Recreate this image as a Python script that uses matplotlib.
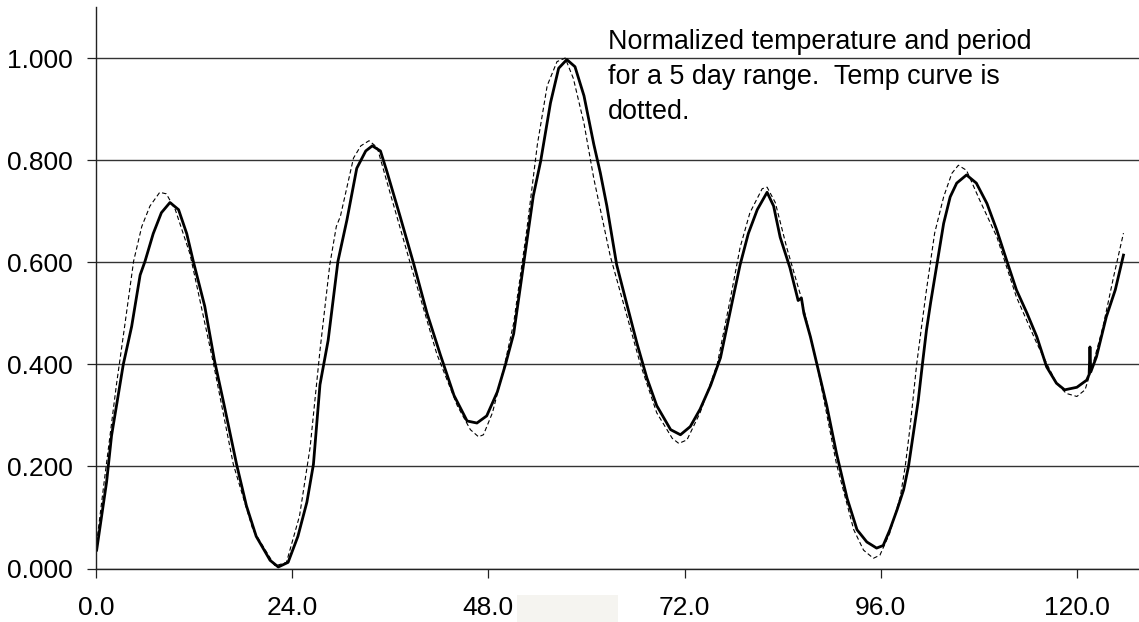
"""Normalized temperature vs period over a 5 day range (temp curve dashed)."""

import matplotlib

matplotlib.use("Agg")
import matplotlib.pyplot as plt
from matplotlib.patches import Rectangle
from matplotlib.ticker import FormatStrFormatter

# period (solid, thick) -- hours, normalized value
period_hours = [
    0.08, 1.3, 1.9, 3.34, 4.36, 5.4, 6.0, 7.0, 8.0, 9.05, 10.1, 11.1, 11.9,
    13.3, 14.5, 15.6, 17.2, 18.4, 19.6, 21.3, 22.3, 23.5, 24.7, 25.8, 26.6,
    27.4, 28.4, 29.6, 30.7, 31.9, 33.0, 33.8, 34.8, 35.6, 37.2, 38.9, 40.5,
    42.1, 43.8, 45.4, 46.6, 47.8, 49.1, 50.1, 51.1, 52.3, 53.5, 54.4, 55.6,
    56.6, 57.6, 58.6, 59.7, 60.9, 61.7, 62.5, 63.7, 65.0, 66.2, 67.4, 68.6,
    70.3, 71.5, 72.7, 73.9, 75.2, 76.4, 77.2, 78.0, 78.8, 79.8, 80.9, 82.1,
    82.9, 83.7, 84.9, 85.9, 86.3, 86.6, 87.4, 88.2, 89.4, 90.6, 91.9, 93.1,
    94.3, 95.5, 96.3, 97.1, 98.0, 98.8, 99.4, 100.0, 100.6, 101.1, 101.6,
    102.1, 102.9, 103.7, 104.5, 105.3, 106.5, 107.7, 109.0, 110.2, 111.4,
    112.6, 113.9, 115.1, 116.3, 117.5, 118.5, 120.0, 121.2, 121.5, 121.6,
    121.7, 122.4, 123.6, 124.7, 125.7,
]
period_norm = [
    0.036, 0.17, 0.26, 0.40, 0.474, 0.575, 0.602, 0.656, 0.697, 0.717, 0.703,
    0.656, 0.602, 0.514, 0.407, 0.326, 0.204, 0.123, 0.063, 0.016, 0.003,
    0.012, 0.063, 0.13, 0.204, 0.36, 0.447, 0.602, 0.683, 0.784, 0.818, 0.828,
    0.818, 0.777, 0.69, 0.595, 0.50, 0.42, 0.339, 0.289, 0.285, 0.299, 0.346,
    0.40, 0.46, 0.595, 0.73, 0.798, 0.912, 0.98, 0.997, 0.983, 0.926, 0.831,
    0.775, 0.71, 0.595, 0.514, 0.44, 0.373, 0.319, 0.272, 0.262, 0.278, 0.312,
    0.359, 0.413, 0.474, 0.535, 0.595, 0.656, 0.703, 0.737, 0.71, 0.649,
    0.589, 0.525, 0.53, 0.50, 0.454, 0.40, 0.319, 0.225, 0.137, 0.076, 0.052,
    0.04, 0.045, 0.075, 0.115, 0.154, 0.2, 0.265, 0.33, 0.4, 0.467, 0.52,
    0.598, 0.676, 0.728, 0.755, 0.771, 0.755, 0.715, 0.663, 0.604, 0.546,
    0.50, 0.454, 0.395, 0.363, 0.35, 0.355, 0.369, 0.38, 0.434, 0.385, 0.415,
    0.493, 0.546, 0.614,
]

# temperature (thin, dashed)
temp_hours = [
    0.08, 0.9, 2.5, 3.5, 4.6, 5.6, 6.6, 7.8, 8.6, 9.7, 11.5, 14.3, 16.8, 19.2,
    21.9, 23.3, 24.9, 26.2, 27.4, 28.6, 29.4, 29.9, 31.5, 32.4, 33.4, 34.4,
    35.6, 38.5, 41.7, 44.2, 45.8, 46.8, 47.4, 48.5, 49.9, 51.1, 52.7, 54.0,
    55.2, 56.4, 57.4, 58.4, 59.7, 60.9, 62.9, 66.6, 68.6, 70.5, 71.3, 72.3,
    73.9, 76.0, 77.6, 78.8, 80.0, 81.5, 82.1, 83.1, 84.5, 86.2, 88.2, 90.6,
    92.7, 93.9, 95.1, 95.9, 97.1, 98.4, 99.0, 99.6, 100.4, 101.0, 101.6,
    102.6, 103.7, 104.7, 105.5, 106.5, 108.1, 110.2, 112.6, 115.1, 117.5,
    118.7, 120.0, 121.0, 122.0, 123.2, 124.5, 125.7,
]
temp_norm = [
    0.05, 0.157, 0.36, 0.474, 0.602, 0.67, 0.71, 0.737, 0.734, 0.703, 0.616,
    0.407, 0.204, 0.076, 0.005, 0.012, 0.103, 0.238, 0.427, 0.595, 0.67, 0.69,
    0.804, 0.828, 0.838, 0.825, 0.757, 0.595, 0.42, 0.319, 0.272, 0.258,
    0.262, 0.305, 0.393, 0.481, 0.663, 0.831, 0.946, 0.993, 1.0, 0.96, 0.872,
    0.764, 0.613, 0.40, 0.305, 0.255, 0.245, 0.252, 0.305, 0.40, 0.528, 0.629,
    0.697, 0.744, 0.747, 0.717, 0.629, 0.535, 0.40, 0.204, 0.076, 0.036, 0.02,
    0.026, 0.069, 0.141, 0.2, 0.278, 0.40, 0.474, 0.546, 0.657, 0.728, 0.774,
    0.79, 0.78, 0.722, 0.65, 0.532, 0.441, 0.363, 0.343, 0.337, 0.35, 0.402,
    0.474, 0.572, 0.657,
]

x_ticks = [0, 24, 48, 72, 96, 120]
y_ticks = [0.0, 0.2, 0.4, 0.6, 0.8, 1.0]
note_lines = [
    "Normalized temperature and period",
    "for a 5 day range.  Temp curve is",
    "dotted.",
]

W, H = 1139, 622
plt.rcParams["font.family"] = ["Liberation Sans", "DejaVu Sans"]

fig = plt.figure(figsize=(W / 100, H / 100), dpi=100)
ax = fig.add_axes([96 / W, 1 - 568.5 / H, 1 - 96 / W, (568.5 - 7) / H])

ax.plot(temp_hours, temp_norm, color="black", lw=0.8, dashes=(4, 2.5))
ax.plot(period_hours, period_norm, color="black", lw=2.0)

ax.set_xlim(0, 127.6)
ax.set_ylim(0, 1.1)
ax.set_xticks(x_ticks)
ax.set_yticks(y_ticks)
ax.xaxis.set_major_formatter(FormatStrFormatter("%.1f"))
ax.yaxis.set_major_formatter(FormatStrFormatter("%.3f"))
ax.grid(axis="y", color="#333333", lw=1.0)
ax.set_axisbelow(True)
for side in ("top", "right"):
    ax.spines[side].set_visible(False)
for side in ("left", "bottom"):
    ax.spines[side].set_linewidth(1.0)
    ax.spines[side].set_color("#222222")
ax.tick_params(axis="both", direction="out", length=6.5, width=0.9,
               labelsize=19, color="#222222")
ax.tick_params(axis="y", pad=10)
ax.tick_params(axis="x", pad=13)

# faint scan artifact under the x axis
fig.patches.append(Rectangle((517 / W, 0), 101 / W, 27 / H, transform=fig.transFigure,
                             facecolor="#f5f4f0", edgecolor="none", zorder=0))

for i, line in enumerate(note_lines):
    fig.text(608 / W, 1 - (49 + 35 * i) / H, line, fontsize=19.4, va="baseline")

fig.savefig("out.png", dpi=100)
